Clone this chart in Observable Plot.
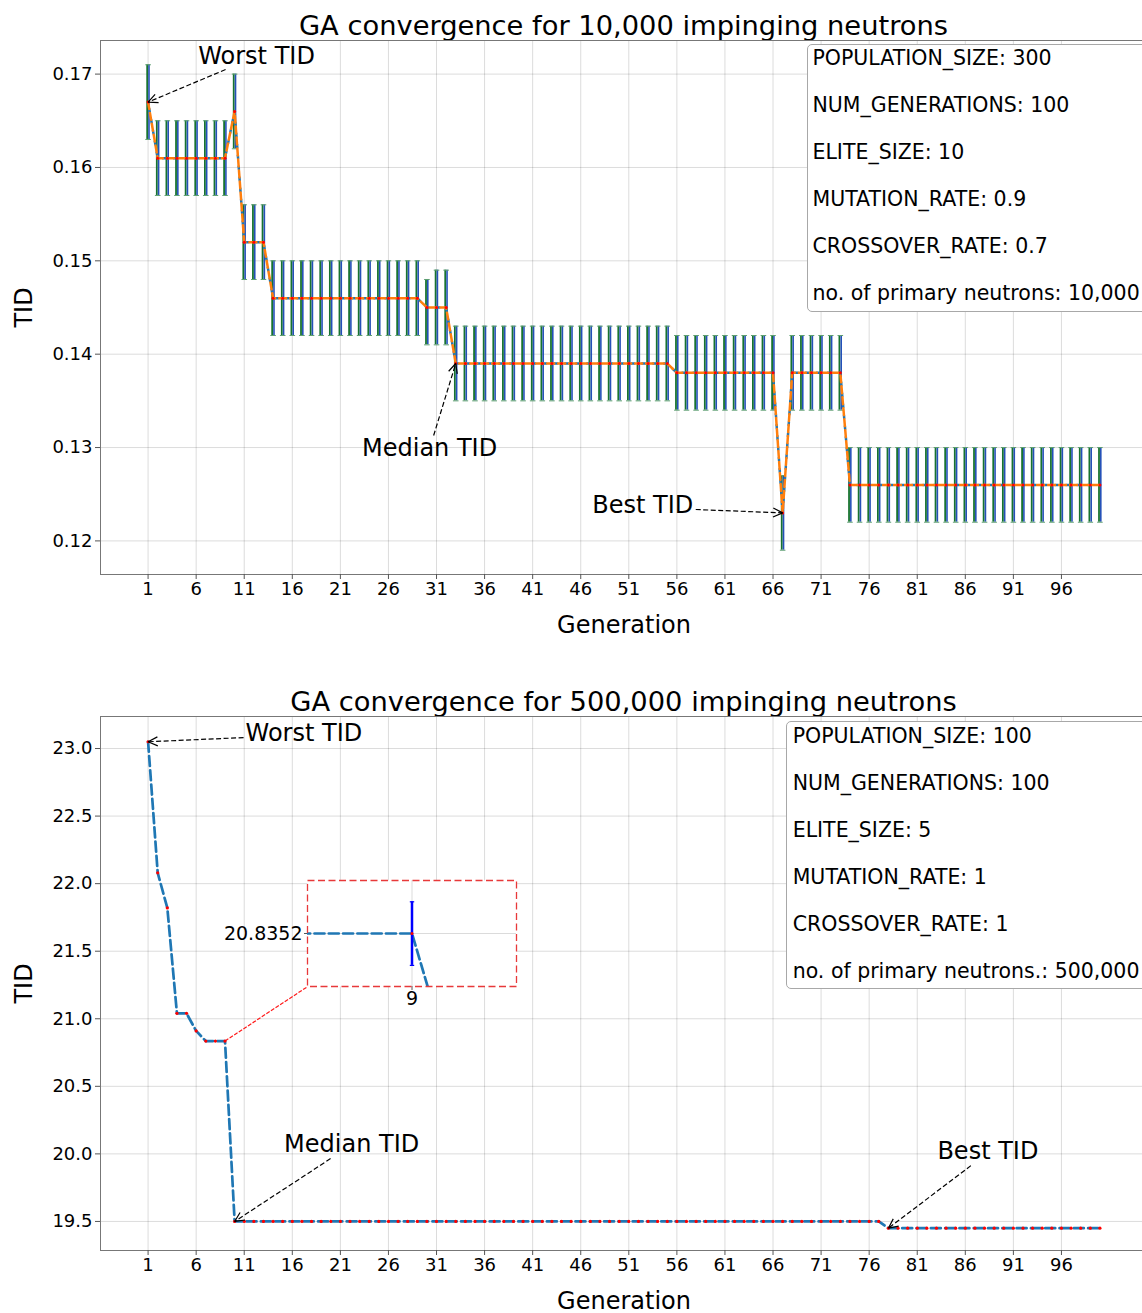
<!DOCTYPE html>
<html><head><meta charset="utf-8">
<script src="https://cdn.jsdelivr.net/npm/d3@7"></script>
<script src="https://cdn.jsdelivr.net/npm/@observablehq/plot@0.6"></script>
<style>
html,body{margin:0;padding:0;background:#fff;width:1142px;height:1313px;overflow:hidden;}
#root{position:relative;width:1142px;height:1313px;font-family:"DejaVu Sans",sans-serif;color:#000;}
.title{position:absolute;left:0;width:1247px;text-align:center;font-size:27.3px;line-height:27px;white-space:nowrap;}
.box{position:absolute;background:#fff;border:1px solid #a8a8a8;border-radius:5px;box-sizing:border-box;}
.ltxt{position:absolute;font-size:20.5px;line-height:20px;white-space:nowrap;}
.abs{position:absolute;}
</style></head><body><div id="root"></div><script>
// ---------- data ----------
const gens = [1,2,3,4,5,6,7,8,9,10,11,12,13,14,15,16,17,18,19,20,21,22,23,24,25,26,27,28,29,30,
31,32,33,34,35,36,37,38,39,40,41,42,43,44,45,46,47,48,49,50,51,52,53,54,55,56,57,58,59,60,
61,62,63,64,65,66,67,68,69,70,71,72,73,74,75,76,77,78,79,80,81,82,83,84,85,86,87,88,89,90,
91,92,93,94,95,96,97,98,99,100];
const xTicks = [1,6,11,16,21,26,31,36,41,46,51,56,61,66,71,76,81,86,91,96];

// Top chart: 10,000 neutrons
const topMedian = [
0.167,0.161,0.161,0.161,0.161,0.161,0.161,0.161,0.161,0.166,
0.152,0.152,0.152,0.146,0.146,0.146,0.146,0.146,0.146,0.146,
0.146,0.146,0.146,0.146,0.146,0.146,0.146,0.146,0.146,0.145,
0.145,0.145,0.139,0.139,0.139,0.139,0.139,0.139,0.139,0.139,
0.139,0.139,0.139,0.139,0.139,0.139,0.139,0.139,0.139,0.139,
0.139,0.139,0.139,0.139,0.139,0.138,0.138,0.138,0.138,0.138,
0.138,0.138,0.138,0.138,0.138,0.138,0.123,0.138,0.138,0.138,
0.138,0.138,0.138,0.126,0.126,0.126,0.126,0.126,0.126,0.126,
0.126,0.126,0.126,0.126,0.126,0.126,0.126,0.126,0.126,0.126,
0.126,0.126,0.126,0.126,0.126,0.126,0.126,0.126,0.126,0.126];
const topLow = [
0.163,0.157,0.157,0.157,0.157,0.157,0.157,0.157,0.157,0.162,
0.148,0.148,0.148,0.142,0.142,0.142,0.142,0.142,0.142,0.142,
0.142,0.142,0.142,0.142,0.142,0.142,0.142,0.142,0.142,0.141,
0.141,0.141,0.135,0.135,0.135,0.135,0.135,0.135,0.135,0.135,
0.135,0.135,0.135,0.135,0.135,0.135,0.135,0.135,0.135,0.135,
0.135,0.135,0.135,0.135,0.135,0.134,0.134,0.134,0.134,0.134,
0.134,0.134,0.134,0.134,0.134,0.134,0.119,0.134,0.134,0.134,
0.134,0.134,0.134,0.122,0.122,0.122,0.122,0.122,0.122,0.122,
0.122,0.122,0.122,0.122,0.122,0.122,0.122,0.122,0.122,0.122,
0.122,0.122,0.122,0.122,0.122,0.122,0.122,0.122,0.122,0.122];
const topHigh = [
0.171,0.165,0.165,0.165,0.165,0.165,0.165,0.165,0.165,0.170,
0.156,0.156,0.156,0.150,0.150,0.150,0.150,0.150,0.150,0.150,
0.150,0.150,0.150,0.150,0.150,0.150,0.150,0.150,0.150,0.148,
0.149,0.149,0.143,0.143,0.143,0.143,0.143,0.143,0.143,0.143,
0.143,0.143,0.143,0.143,0.143,0.143,0.143,0.143,0.143,0.143,
0.143,0.143,0.143,0.143,0.143,0.142,0.142,0.142,0.142,0.142,
0.142,0.142,0.142,0.142,0.142,0.142,0.127,0.142,0.142,0.142,
0.142,0.142,0.142,0.130,0.130,0.130,0.130,0.130,0.130,0.130,
0.130,0.130,0.130,0.130,0.130,0.130,0.130,0.130,0.130,0.130,
0.130,0.130,0.130,0.130,0.130,0.130,0.130,0.130,0.130,0.130];
const topYTicks = [0.12,0.13,0.14,0.15,0.16,0.17];

// Bottom chart: 500,000 neutrons
const bottomTID = [
23.05,22.08,21.82,21.04,21.04,20.91,20.8352,20.8352,20.8352,19.5,
19.5,19.5,19.5,19.5,19.5,19.5,19.5,19.5,19.5,19.5,
19.5,19.5,19.5,19.5,19.5,19.5,19.5,19.5,19.5,19.5,
19.5,19.5,19.5,19.5,19.5,19.5,19.5,19.5,19.5,19.5,
19.5,19.5,19.5,19.5,19.5,19.5,19.5,19.5,19.5,19.5,
19.5,19.5,19.5,19.5,19.5,19.5,19.5,19.5,19.5,19.5,
19.5,19.5,19.5,19.5,19.5,19.5,19.5,19.5,19.5,19.5,
19.5,19.5,19.5,19.5,19.5,19.5,19.5,19.45,19.45,19.45,
19.45,19.45,19.45,19.45,19.45,19.45,19.45,19.45,19.45,19.45,
19.45,19.45,19.45,19.45,19.45,19.45,19.45,19.45,19.45,19.45];
const bottomYTicks = [19.5,20.0,20.5,21.0,21.5,22.0,22.5,23.0];
// inset (zoom on generation 9)
const insetGen = [9];
const insetValue = [20.8352];
const insetLow = [20.775];
const insetHigh = [20.895];

const topParams = ["POPULATION_SIZE: 300","NUM_GENERATIONS: 100","ELITE_SIZE: 10","MUTATION_RATE: 0.9","CROSSOVER_RATE: 0.7","no. of primary neutrons: 10,000"];
const bottomParams = ["POPULATION_SIZE: 100","NUM_GENERATIONS: 100","ELITE_SIZE: 5","MUTATION_RATE: 1","CROSSOVER_RATE: 1","no. of primary neutrons.: 500,000"];

// annotations (text position, arrow tail, arrow tip) in data coordinates
const topNotes = [
  {label:"Worst TID", tx:12.28, ty:0.1719, ax:9.06, ay:0.17049, px:1, py:0.167, anchor:"middle"},
  {label:"Median TID", tx:30.28, ty:0.1299, ax:30.7, ay:0.13129, px:33, py:0.139, anchor:"middle"},
  {label:"Best TID", tx:52.45, ty:0.12379, ax:57.96, ay:0.12336, px:67, py:0.123, anchor:"middle"}
];
const bottomNotes = [
  {label:"Worst TID", tx:11.14, ty:23.111, ax:10.93, ay:23.081, px:1, py:23.05, anchor:"start"},
  {label:"Median TID", tx:22.17, ty:20.069, ax:19.98, ay:19.965, px:10, py:19.5, anchor:"middle"},
  {label:"Best TID", tx:88.35, ty:20.017, ax:86.58, ay:19.913, px:78, py:19.45, anchor:"middle"}
];

// ---------- helpers ----------
const FONT = "DejaVu Sans";
const capSymbol = {draw(ctx, size){ const w = Math.sqrt(size/Math.PI); ctx.moveTo(-w,0); ctx.lineTo(w,0); }};
function openArrow(color){
  const ns = "http://www.w3.org/2000/svg";
  const m = document.createElementNS(ns, "marker");
  m.setAttribute("viewBox", "-11 -6 13 12");
  m.setAttribute("markerWidth", 13);
  m.setAttribute("markerHeight", 12);
  m.setAttribute("markerUnits", "userSpaceOnUse");
  m.setAttribute("orient", "auto");
  m.setAttribute("refX", 0); m.setAttribute("refY", 0);
  m.setAttribute("fill", "none");
  m.setAttribute("stroke", color);
  m.setAttribute("stroke-width", 1.2);
  m.setAttribute("stroke-dasharray", "none");
  const p = document.createElementNS(ns, "path");
  p.setAttribute("d", "M-9.5,-4.5L0,0L-9.5,4.5");
  m.appendChild(p);
  return m;
}
const gridStyle = {stroke:"#000", strokeOpacity:0.14, strokeWidth:1};
const axisStyle = {tickSize:5, tickPadding:3, fontSize:18, stroke:"#555", fill:"#000"};
function axisLabels(){
  return [
    Plot.text(["Generation"], {text:d=>d, frameAnchor:"bottom", lineAnchor:"middle", dy:51, fontSize:24, fill:"#000"}),
    Plot.text(["TID"], {text:d=>d, frameAnchor:"left", lineAnchor:"middle", textAnchor:"middle", dx:-76, rotate:-90, fontSize:24, fill:"#000"})
  ];
}
function notes(arr){
  return [
    Plot.link(arr, {x1:"ax", y1:"ay", x2:"px", y2:"py", stroke:"#000", strokeWidth:1.2, strokeDasharray:"5,2.5", markerEnd: openArrow}),
    Plot.text(arr.filter(d=>d.anchor==="middle"), {x:"tx", y:"ty", text:"label", fontSize:24, fill:"#000", textAnchor:"middle"}),
    Plot.text(arr.filter(d=>d.anchor==="start"), {x:"tx", y:"ty", text:"label", fontSize:24, fill:"#000", textAnchor:"start"})
  ];
}
const svgStyle = {fontFamily:FONT, background:"transparent", overflow:"visible", maxWidth:"none"};

const root = document.getElementById("root");
function place(el, left, top){ el.style.position="absolute"; el.style.left=left+"px"; el.style.top=top+"px"; root.appendChild(el); return el; }
function addTitle(text, top){ const d=document.createElement("div"); d.className="title"; d.textContent=text; d.style.top=top+"px"; root.appendChild(d); }
function addBox(lines, left, top, height, textLeft, firstCenter){
  const b=document.createElement("div"); b.className="box";
  b.style.left=left+"px"; b.style.top=top+"px"; b.style.width=(1160-left)+"px"; b.style.height=height+"px";
  root.appendChild(b);
  lines.forEach((t,i)=>{ const d=document.createElement("div"); d.className="ltxt"; d.textContent=t;
    d.style.left=textLeft+"px"; d.style.top=(firstCenter+i*47-10)+"px"; root.appendChild(d); });
}

// ---------- top chart ----------
const topData = gens.map((g,i)=>({g, m:topMedian[i], lo:topLow[i], hi:topHigh[i]}));
addTitle("GA convergence for 10,000 impinging neutrons", 12);
const topPlot = Plot.plot({
  width:1148, height:614, marginLeft:100, marginRight:1, marginTop:4, marginBottom:76,
  style: svgStyle,
  x:{domain:[-3.95,104.95]},
  y:{domain:[0.1164,0.1736]},
  marks:[
    Plot.gridX(xTicks, gridStyle),
    Plot.gridY(topYTicks, gridStyle),
    Plot.frame({stroke:"#777", strokeWidth:1}),
    Plot.axisX(xTicks, {...axisStyle, tickFormat:d=>String(d), label:null}),
    Plot.axisY(topYTicks, {...axisStyle, tickFormat:d3.format(".2f"), label:null}),
    Plot.ruleX(topData, {x:"g", y1:"lo", y2:"hi", stroke:"#17732f", strokeWidth:1.8, dx:-0.9}),
    Plot.ruleX(topData, {x:"g", y1:"lo", y2:"hi", stroke:"#2450b8", strokeWidth:1.6, dx:0.9}),
    Plot.dot(topData, {x:"g", y:"lo", symbol:capSymbol, r:2.8, stroke:"#5e9f72", strokeWidth:1, fill:"none"}),
    Plot.dot(topData, {x:"g", y:"hi", symbol:capSymbol, r:2.8, stroke:"#5e9f72", strokeWidth:1, fill:"none"}),
    Plot.line(topData, {x:"g", y:"m", stroke:"#1f77b4", strokeWidth:2.5, strokeDasharray:"3,8", strokeDashoffset:4}),
    Plot.line(topData, {x:"g", y:"m", stroke:"#ff7f0e", strokeWidth:2.5, strokeDasharray:"7,4"}),
    Plot.dot(topData, {x:"g", y:"m", r:1.5, fill:"#ff0000"}),
    ...notes(topNotes),
    ...axisLabels()
  ]
});
place(topPlot, 0, 36);
addBox(topParams, 806.5, 44, 268, 812.5, 58.3);

// ---------- bottom chart ----------
const botData = gens.map((g,i)=>({g, v:bottomTID[i]}));
addTitle("GA convergence for 500,000 impinging neutrons", 688);
const connector = [{x1:insetGen[0], y1:insetValue[0], x2:17.59, y2:21.238}];
const botPlot = Plot.plot({
  width:1148, height:601, marginLeft:100, marginRight:1, marginTop:4, marginBottom:63,
  style: svgStyle,
  x:{domain:[-3.95,104.95]},
  y:{domain:[19.285,23.237]},
  marks:[
    Plot.gridX(xTicks, gridStyle),
    Plot.gridY(bottomYTicks, gridStyle),
    Plot.frame({stroke:"#777", strokeWidth:1}),
    Plot.axisX(xTicks, {...axisStyle, tickFormat:d=>String(d), label:null}),
    Plot.axisY(bottomYTicks, {...axisStyle, tickFormat:d3.format(".1f"), label:null}),
    Plot.link(connector, {x1:"x1", y1:"y1", x2:"x2", y2:"y2", stroke:"#ff1a1a", strokeWidth:1.2, strokeDasharray:"4,1.5"}),
    Plot.line(botData, {x:"g", y:"v", stroke:"#1f77b4", strokeWidth:2.7, strokeDasharray:"10,4.3"}),
    Plot.dot(botData, {x:"g", y:"v", r:1.6, fill:"#ff0000"}),
    ...notes(bottomNotes),
    ...axisLabels()
  ]
});
place(botPlot, 0, 712);
addBox(bottomParams, 786, 720.5, 268, 792.7, 735.5);

// ---------- inset ----------
const insetErr = insetGen.map((g,i)=>({g, v:insetValue[i], lo:insetLow[i], hi:insetHigh[i]}));
const insetPlot = Plot.plot({
  width:311, height:138, marginLeft:100, marginRight:2, marginTop:2, marginBottom:30,
  style: svgStyle,
  x:{domain:[8.5,9.5]},
  y:{domain:[20.7352,20.9352]},
  marks:[
    Plot.frame({fill:"white", stroke:"none"}),
    Plot.gridX(insetGen, gridStyle),
    Plot.gridY(insetValue, gridStyle),
    Plot.axisX(insetGen, {tickSize:4, tickPadding:1, fontSize:19, stroke:"#555", fill:"#000", tickFormat:d=>String(d), label:null}),
    Plot.axisY(insetValue, {tickSize:3, tickPadding:2, fontSize:19, stroke:"#555", fill:"#000", tickFormat:d=>d.toFixed(4), label:null}),
    Plot.line(botData, {x:"g", y:"v", stroke:"#1f77b4", strokeWidth:2.7, strokeDasharray:"10,4.3", clip:true}),
    Plot.ruleX(insetErr, {x:"g", y1:"lo", y2:"hi", stroke:"#0000ff", strokeWidth:2.5}),
    Plot.dot(insetErr, {x:"g", y:"lo", symbol:capSymbol, r:2.2, stroke:"#0000ff", strokeWidth:1.2, fill:"none"}),
    Plot.dot(insetErr, {x:"g", y:"hi", symbol:capSymbol, r:2.2, stroke:"#0000ff", strokeWidth:1.2, fill:"none"}),
    Plot.dot(insetErr, {x:"g", y:"v", r:1.5, fill:"#ff0000"}),
    Plot.frame({stroke:"#e8393a", strokeWidth:1.3, strokeDasharray:"7,3.5"})
  ]
});
place(insetPlot, 207, 878);
</script></body></html>
